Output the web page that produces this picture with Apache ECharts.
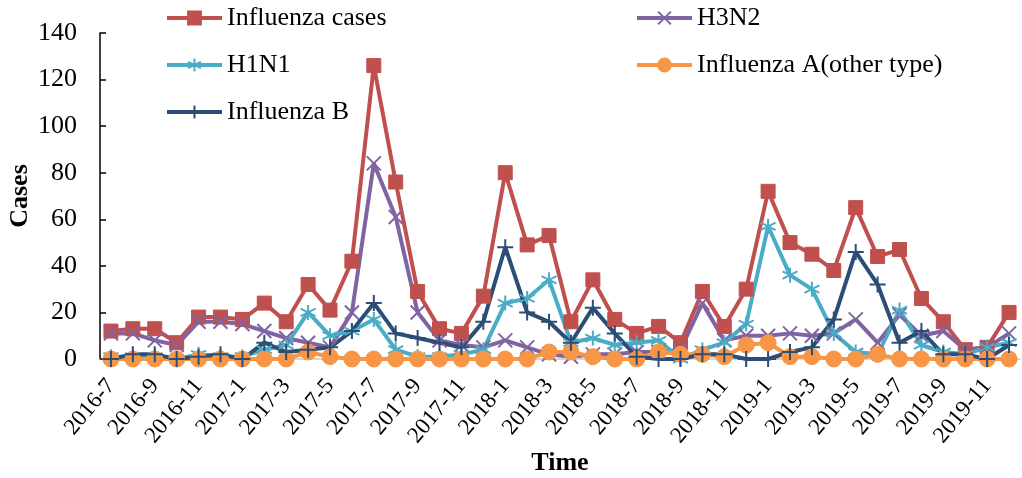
<!DOCTYPE html>
<html>
<head>
<meta charset="utf-8">
<script src="https://cdn.jsdelivr.net/npm/echarts@6/dist/echarts.min.js"></script>
<style>
  html, body { margin: 0; padding: 0; background: #fff; }
  #chart { width: 1022px; height: 478px; }
</style>
</head>
<body>
<div id="chart"></div>
<script>
const months = ['2016-7','2016-8','2016-9','2016-10','2016-11','2016-12',
  '2017-1','2017-2','2017-3','2017-4','2017-5','2017-6','2017-7','2017-8','2017-9','2017-10','2017-11','2017-12',
  '2018-1','2018-2','2018-3','2018-4','2018-5','2018-6','2018-7','2018-8','2018-9','2018-10','2018-11','2018-12',
  '2019-1','2019-2','2019-3','2019-4','2019-5','2019-6','2019-7','2019-8','2019-9','2019-10','2019-11','2019-12']

const influenzaCases = [12,13,13,7,18,18,17,24,16,32,21,42,126,76,29,13,11,27,80,49,53,16,34,17,11,14,7,29,14,30,72,50,45,38,65,44,47,26,16,4,5,20]
const h3n2 = [11,11,8,6,16,16,15,12,9,7,5,20,84,61,20,8,6,5,8,5,2,1,2,2,3,3,4,24,8,10,10,11,10,11,17,7,19,10,12,4,5,11]
const h1n1 = [1,1,1,0,2,1,1,4,6,20,10,12,17,4,1,1,2,4,24,26,34,7,9,6,7,8,0,4,7,15,57,36,30,11,3,2,21,6,3,2,5,7]
const otherA = [0,0,0,0,0,0,0,0,0,3,1,0,0,0,0,0,0,0,0,0,3,3,1,0,0,3,2,2,1,6,7,1,1,0,0,2,0,0,0,0,0,0]
const influenzaB = [0,2,2,0,1,2,0,7,3,4,5,12,24,11,9,7,5,16,48,20,16,7,22,11,1,0,0,2,2,0,0,3,5,17,46,32,7,12,2,2,0,6]

const font = 'Liberation Serif'

// open-stroke marker shapes (drawn with borderColor)
const crossX = 'path://M0,0L10,10M10,0L0,10'
const asterisk = 'path://M5,0L5,10M0.7,2.5L9.3,7.5M0.7,7.5L9.3,2.5'
const plus = 'path://M5,0L5,10M0,5L10,5'

function makeSeries(name, data, color, symbol, size, border) {
  return {
    name: name,
    type: 'line',
    data: data,
    symbol: symbol,
    symbolSize: size,
    showAllSymbol: true,
    lineStyle: { color: color, width: 4 },
    itemStyle: { color: color, borderColor: color, borderWidth: border },
    emphasis: { disabled: true }
  }
}

const legendText = { fontFamily: font, fontSize: 26, color: '#000', lineHeight: 26 }

const chart = echarts.init(document.getElementById('chart'))
chart.setOption({
  animation: false,
  textStyle: { fontFamily: font },
  grid: { left: 100, right: 2, top: 33, bottom: 119, outerBoundsMode: 'none' },
  legend: [
    {
      data: ['Influenza cases', 'H1N1', 'Influenza B'],
      orient: 'vertical', left: 165, top: 5, padding: 0,
      itemWidth: 55, itemHeight: 16, itemGap: 21,
      lineStyle: { width: 4 },
      textStyle: legendText
    },
    {
      data: ['H3N2', 'Influenza A(other type)'],
      orient: 'vertical', left: 635, top: 5, padding: 0,
      itemWidth: 55, itemHeight: 16, itemGap: 21,
      lineStyle: { width: 4 },
      textStyle: legendText
    }
  ],
  xAxis: {
    type: 'category',
    data: months,
    boundaryGap: true,
    name: 'Time',
    nameLocation: 'middle',
    nameGap: 91,
    nameMoveOverlap: false,
    nameTextStyle: { fontFamily: font, fontSize: 26, fontWeight: 'bold', color: '#000' },
    axisLine: { lineStyle: { color: '#c8c8c8', width: 1.5 } },
    axisTick: { show: false },
    axisLabel: { interval: 1, rotate: 50, margin: 23, fontFamily: font, fontSize: 23, color: '#000' }
  },
  yAxis: {
    type: 'value',
    min: 0, max: 140, interval: 20,
    name: 'Cases',
    nameLocation: 'middle',
    nameGap: 67,
    nameMoveOverlap: false,
    nameRotate: 90,
    nameTextStyle: { fontFamily: font, fontSize: 26, fontWeight: 'bold', color: '#000' },
    axisLine: { show: true, lineStyle: { color: '#000', width: 1.5 } },
    axisTick: { show: true, inside: true, length: 6, lineStyle: { color: '#000', width: 1.5 } },
    splitLine: { show: false },
    axisLabel: { margin: 23, fontFamily: font, fontSize: 26, color: '#000' }
  },
  series: [
    makeSeries('Influenza cases', influenzaCases, '#C0504D', 'rect', 14, 1),
    makeSeries('H3N2', h3n2, '#8064A2', crossX, 14, 2),
    makeSeries('H1N1', h1n1, '#4BACC6', asterisk, 15, 2),
    makeSeries('Influenza A(other type)', otherA, '#F79646', 'circle', 16, 1),
    makeSeries('Influenza B', influenzaB, '#2C4D75', plus, 16, 2)
  ]
})
</script>
</body>
</html>
